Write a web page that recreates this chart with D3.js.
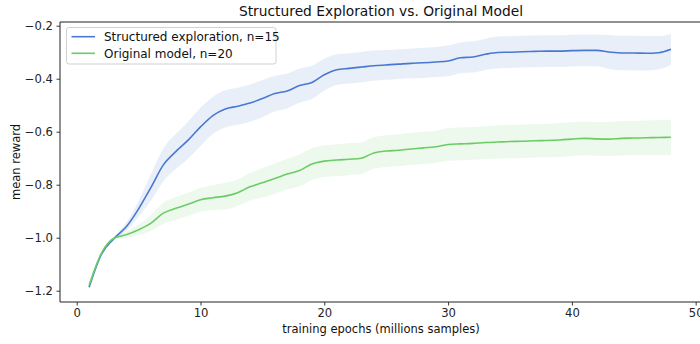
<!DOCTYPE html>
<html>
<head>
<meta charset="utf-8">
<script src="https://cdn.jsdelivr.net/npm/d3@7"></script>
<style>
  html, body { margin: 0; padding: 0; background: #fff; }
  svg { display: block; font-family: "DejaVu Sans", sans-serif; }
</style>
</head>
<body>
<svg id="chart" width="700" height="344"></svg>
<script>
// Training epochs (millions of samples)
const epochs = [1,2,3,4,5,6,7,8,9,10,11,12,13,14,15,16,17,18,19,20,21,22,23,24,
  25,26,27,28,29,30,31,32,33,34,35,36,37,38,39,40,41,42,43,44,45,46,47,48];

// Structured exploration, n=15: mean reward and spread
const structuredMean = [-1.187,-1.062,-1.004,-0.959,-0.891,-0.810,-0.725,-0.675,-0.632,-0.582,
  -0.539,-0.514,-0.504,-0.492,-0.475,-0.456,-0.446,-0.426,-0.414,-0.385,
  -0.366,-0.361,-0.356,-0.351,-0.348,-0.345,-0.342,-0.340,-0.337,-0.333,
  -0.321,-0.318,-0.308,-0.301,-0.300,-0.298,-0.297,-0.296,-0.296,-0.294,
  -0.293,-0.293,-0.299,-0.303,-0.303,-0.304,-0.302,-0.289];
const structuredSpread = [0.004,0.005,0.006,0.015,0.030,0.050,0.062,0.066,0.070,0.072,
  0.070,0.070,0.070,0.070,0.070,0.067,0.066,0.065,0.063,0.060,
  0.058,0.057,0.057,0.057,0.056,0.056,0.056,0.057,0.057,0.058,
  0.058,0.059,0.059,0.060,0.060,0.060,0.060,0.060,0.060,0.060,
  0.060,0.060,0.064,0.065,0.065,0.065,0.063,0.059];

// Original model, n=20: mean reward and spread
const originalMean = [-1.180,-1.058,-1.002,-0.989,-0.970,-0.945,-0.907,-0.889,-0.874,-0.857,
  -0.849,-0.843,-0.830,-0.808,-0.793,-0.777,-0.760,-0.746,-0.722,-0.711,
  -0.707,-0.704,-0.700,-0.680,-0.673,-0.670,-0.665,-0.661,-0.657,-0.648,
  -0.646,-0.644,-0.641,-0.639,-0.637,-0.636,-0.634,-0.633,-0.631,-0.628,
  -0.625,-0.627,-0.628,-0.625,-0.624,-0.623,-0.622,-0.621];
const originalSpread = [0.003,0.004,0.005,0.012,0.020,0.030,0.040,0.043,0.044,0.045,
  0.047,0.050,0.050,0.052,0.055,0.057,0.058,0.060,0.060,0.060,
  0.060,0.060,0.060,0.060,0.060,0.060,0.061,0.061,0.061,0.062,
  0.062,0.062,0.062,0.063,0.063,0.063,0.063,0.063,0.064,0.064,
  0.064,0.064,0.065,0.065,0.065,0.065,0.066,0.066];

const seriesNames = ["Structured exploration, n=15", "Original model, n=20"];
const seriesColors = ["#4878d0", "#6acc64"];
const xTicks = [0, 10, 20, 30, 40, 50];
const yTicks = [-1.2, -1.0, -0.8, -0.6, -0.4, -0.2];

const svg = d3.select("#chart");
const plotLeft = 60, plotRight = 700, plotTop = 22, plotBottom = 302;

const x = d3.scaleLinear().domain([-1.35, 50.35]).range([plotLeft, plotRight]);
const y = d3.scaleLinear().domain([-1.2426, -0.1860]).range([plotBottom, plotTop]);

const series = [
  { name: seriesNames[0], color: seriesColors[0], mean: structuredMean, spread: structuredSpread },
  { name: seriesNames[1], color: seriesColors[1], mean: originalMean, spread: originalSpread }
];

const plot = svg.append("g");

// Shaded spread bands
series.forEach(s => {
  const pts = epochs.map((e, i) => ({ e, m: s.mean[i], d: s.spread[i] }));
  plot.append("path")
    .datum(pts)
    .attr("fill", s.color)
    .attr("fill-opacity", 0.12)
    .attr("d", d3.area()
      .x(p => x(p.e))
      .y0(p => y(p.m - p.d))
      .y1(p => y(p.m + p.d))
      .curve(d3.curveMonotoneX));
});

// Mean lines
series.forEach(s => {
  const pts = epochs.map((e, i) => ({ e, m: s.mean[i] }));
  plot.append("path")
    .datum(pts)
    .attr("fill", "none")
    .attr("stroke", s.color)
    .attr("stroke-width", 1.6)
    .attr("stroke-linejoin", "round")
    .attr("d", d3.line()
      .x(p => x(p.e))
      .y(p => y(p.m))
      .curve(d3.curveMonotoneX));
});

// Axes
const fmtY = d3.format(".1f");
const xAxis = svg.append("g")
  .attr("transform", `translate(0,${plotBottom})`)
  .call(d3.axisBottom(x).tickValues(xTicks).tickSize(3.5).tickPadding(3.5).tickFormat(d3.format("d")));
const yAxis = svg.append("g")
  .attr("transform", `translate(${plotLeft},0)`)
  .call(d3.axisLeft(y).tickValues(yTicks).tickSize(3.5).tickPadding(3.5).tickFormat(fmtY));

[xAxis, yAxis].forEach(a => {
  a.select(".domain").remove();
  a.selectAll(".tick line").attr("stroke", "#222").attr("stroke-width", 0.9);
  a.selectAll(".tick text")
    .attr("fill", "#222")
    .style("font-family", "'DejaVu Sans', sans-serif")
    .style("font-size", "11.6px");
});

// Frame (top, left, bottom spines)
svg.append("path")
  .attr("d", `M${plotRight + 2},${plotTop}H${plotLeft}V${plotBottom}H${plotRight + 2}`)
  .attr("fill", "none")
  .attr("stroke", "#222")
  .attr("stroke-width", 1);

// Title and axis labels
const centerX = (plotLeft + 702) / 2;
svg.append("text")
  .attr("x", centerX)
  .attr("y", 16)
  .attr("text-anchor", "middle")
  .style("font-size", "13.8px")
  .attr("fill", "#111")
  .text("Structured Exploration vs. Original Model");

svg.append("text")
  .attr("x", centerX)
  .attr("y", 333)
  .attr("text-anchor", "middle")
  .style("font-size", "11.5px")
  .attr("fill", "#111")
  .text("training epochs (millions samples)");

svg.append("text")
  .attr("transform", `translate(19.5,${(plotTop + plotBottom) / 2}) rotate(-90)`)
  .attr("text-anchor", "middle")
  .style("font-size", "11.5px")
  .attr("fill", "#111")
  .text("mean reward");

// Legend
const legend = svg.append("g");
legend.append("rect")
  .attr("x", 66.5).attr("y", 27.5)
  .attr("width", 209.5).attr("height", 36.5)
  .attr("rx", 2.5)
  .attr("fill", "#fff").attr("fill-opacity", 0.8)
  .attr("stroke", "#cccccc").attr("stroke-width", 0.9);
series.forEach((s, i) => {
  const cy = 36.7 + i * 16.6;
  legend.append("line")
    .attr("x1", 71.5).attr("x2", 95)
    .attr("y1", cy).attr("y2", cy)
    .attr("stroke", s.color).attr("stroke-width", 1.6);
  legend.append("text")
    .attr("x", 104).attr("y", cy + 4.3)
    .style("font-size", "12px")
    .attr("fill", "#111")
    .text(s.name);
});
</script>
</body>
</html>
